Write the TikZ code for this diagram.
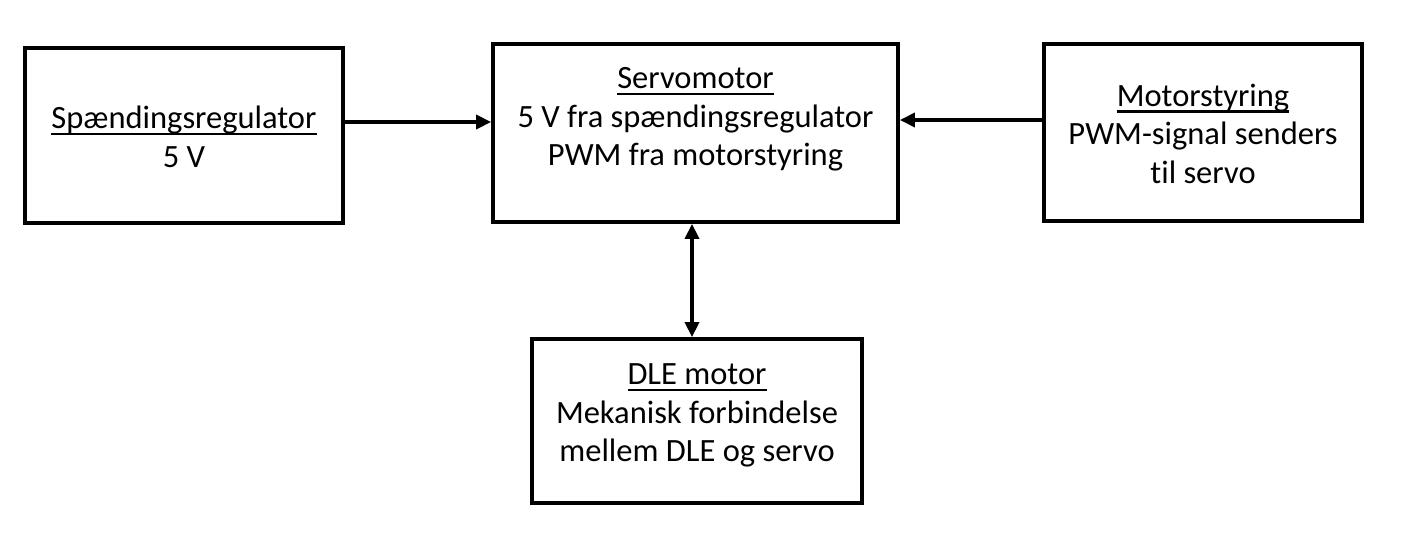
\documentclass[tikz,border=0pt]{standalone}
\usepackage{fontspec}
\setmainfont[Ligatures=NoCommon]{Carlito}
\usetikzlibrary{arrows.meta}
\newcommand\myul[1]{\setbox0\hbox{#1}\rlap{\rule[-0.2em]{\wd0}{0.065em}}\box0}
\begin{document}
\begin{tikzpicture}[x=1pt,y=-1pt,
  blk/.style={draw,line width=3.8pt,rectangle,inner sep=0pt},
  txt/.style={align=center,font=\fontsize{32.5}{38.5}\selectfont,inner sep=0pt},
  conn/.style={line width=3.6pt,-{Triangle[length=15pt,width=14pt]}},
  conn2/.style={line width=3.6pt,{Triangle[length=15pt,width=14pt]}-{Triangle[length=15pt,width=14pt]}}]
\useasboundingbox (0,0) rectangle (1410,544);
\node[blk,minimum width=318pt,minimum height=175pt] (reg) at (184,135.5) {};
\node[blk,minimum width=405pt,minimum height=178pt] (servo) at (695.5,133) {};
\node[blk,minimum width=318pt,minimum height=177pt] (ctrl) at (1203,132.5) {};
\node[blk,minimum width=330pt,minimum height=164pt] (dle) at (697,421) {};
\node[txt] (regt) at (184,137) {\myul{Spændingsregulator}\\5 V};
\node[txt] (servot) at (695.5,119.5) {\myul{Servomotor}\\5 V fra spændingsregulator\\PWM fra motorstyring};
\node[txt] (ctrlt) at (1203,133.5) {\myul{Motorstyring}\\PWM-signal senders\\til servo};
\node[txt] (dlet) at (697,415.5) {\myul{DLE motor}\\Mekanisk forbindelse\\mellem DLE og servo};
\draw[conn] (reg.east |- 0,122) -- (servo.west |- 0,122);
\draw[conn] (ctrl.west |- 0,120) -- (servo.east |- 0,120);
\draw[conn2] (servo.south -| 692,0) -- (dle.north -| 692,0);
\end{tikzpicture}
\end{document}
